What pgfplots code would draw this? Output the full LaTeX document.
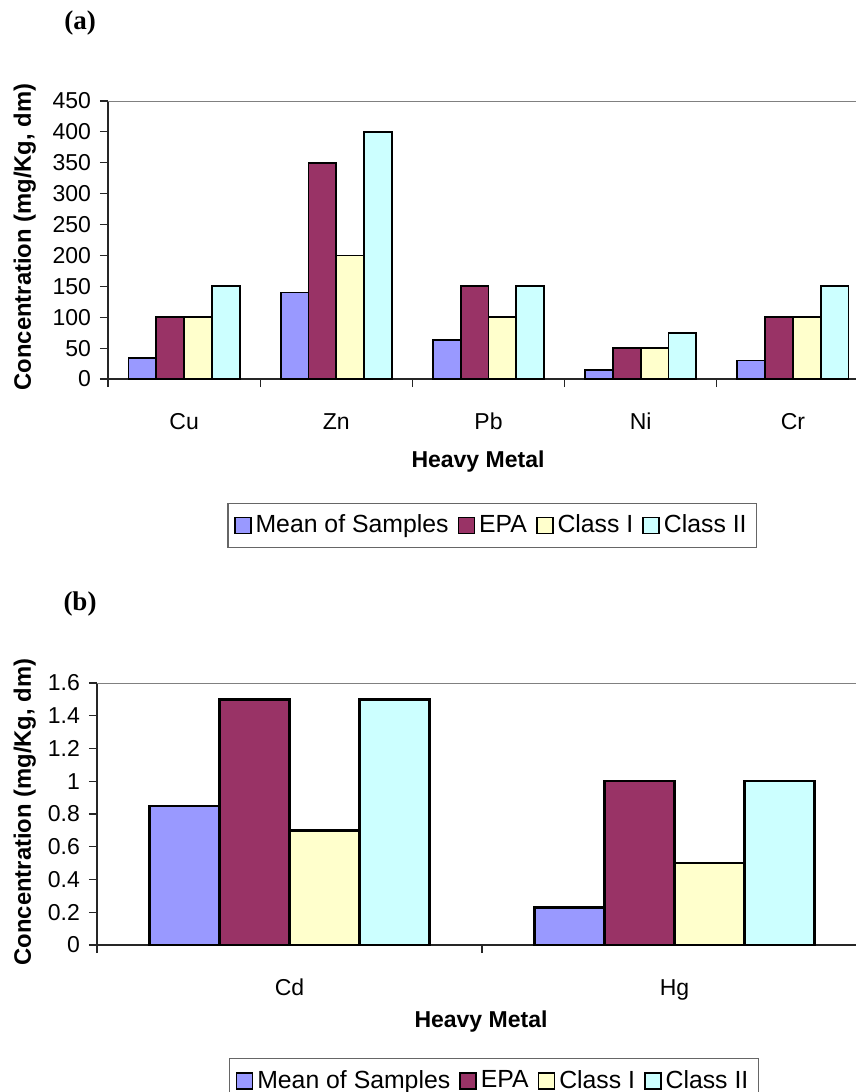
\documentclass[border=0pt]{standalone}
\usepackage{pgfplots}
\usepackage{pgfplotstable}
\pgfplotsset{compat=1.18}
\usepackage{fontspec}
\setmainfont{Liberation Sans}
\newfontfamily\panelfont{Liberation Serif}

\definecolor{meancol}{HTML}{9999FF}
\definecolor{epacol}{HTML}{993366}
\definecolor{classonecol}{HTML}{FFFFCC}
\definecolor{classtwocol}{HTML}{CCFFFF}

% (a) major heavy metals, mg/Kg dry matter
\pgfplotstableread{
x mean epa classI classII
0 34  100 100 150
1 140 350 200 400
2 63  150 100 150
3 15  50  50  75
4 30  100 100 150
}\majortable

% (b) trace heavy metals, mg/Kg dry matter
\pgfplotstableread{
x mean epa classI classII
0 0.85 1.5 0.7 1.5
1 0.23 1.0 0.5 1.0
}\tracetable

\pgfplotsset{
  metalchart/.style={
    scale only axis,
    ybar=0pt,
    axis lines=left,
    axis line style={-, black!85, line width=0.7pt},
    tick align=outside,
    major tick length=4pt,
    tick style={black!85, line width=0.6pt},
    x tick label as interval,
    /pgf/number format/assume math mode=true,
    tick label style={font=\fontsize{11.5}{13}\selectfont},
    xticklabel style={anchor=base, yshift=-21.25pt},
    yticklabel style={xshift=-1pt},
    legend columns=-1,
    legend style={draw=black!60, line width=0.6pt,
      font=\fontsize{12.4}{14}\selectfont,
      inner ysep=3.8pt, inner xsep=3pt,
      /tikz/every odd column/.append style={column sep=0pt},
      /tikz/every even column/.append style={column sep=2.5pt}},
    legend image code/.code={%
      \draw[##1, draw=black, line width=0.8pt] (0pt,-4pt) rectangle (8pt,4pt);},
    every axis plot/.append style={draw=black},
  },
}

\begin{document}
\begin{tikzpicture}
% ---------- panel (a) ----------
\begin{axis}[metalchart,
  at={(54pt,-189.5pt)}, anchor=south west,
  width=380.5pt, height=139pt,
  bar width=13.9pt,
  xmin=-0.5, xmax=4.5, ymin=0, ymax=450,
  xtick={-0.5,0.5,...,4.5},
  xticklabels={Cu,Zn,Pb,Ni,Cr},
  ytick={0,50,...,450},
  every axis plot/.append style={line width=0.9pt},
  legend style={at={(0.505,-0.527)}, anchor=center},
]
\addplot[fill=meancol] table[x=x, y=mean] {\majortable};
\addplot[fill=epacol] table[x=x, y=epa] {\majortable};
\addplot[fill=classonecol] table[x=x, y=classI] {\majortable};
\addplot[fill=classtwocol] table[x=x, y=classII] {\majortable};
\legend{Mean of Samples, EPA, Class I, Class II}
\draw[gray, line width=0.8pt] (rel axis cs:0,1) -- (rel axis cs:1,1);
\end{axis}

% ---------- panel (b) ----------
\begin{axis}[metalchart,
  at={(48.5pt,-472.5pt)}, anchor=south west,
  width=385pt, height=131pt,
  bar width=35pt,
  xmin=-0.5, xmax=1.5, ymin=0, ymax=1.6,
  xtick={-0.5,0.5,1.5},
  xticklabels={Cd,Hg},
  ytick={0,0.2,0.4,0.6,0.8,1,1.2,1.4,1.6},
  yticklabel style={/pgf/number format/.cd, fixed, precision=1},
  every axis plot/.append style={line width=1.2pt},
  legend style={at={(0.5156,-0.518)}, anchor=center},
]
\addplot[fill=meancol] table[x=x, y=mean] {\tracetable};
\addplot[fill=epacol] table[x=x, y=epa] {\tracetable};
\addplot[fill=classonecol] table[x=x, y=classI] {\tracetable};
\addplot[fill=classtwocol] table[x=x, y=classII] {\tracetable};
\legend{Mean of Samples, EPA, Class I, Class II}
\draw[gray, line width=0.8pt] (rel axis cs:0,1) -- (rel axis cs:1,1);
\end{axis}

% panel tags and axis titles
\node[font=\panelfont\bfseries\fontsize{13.5}{15}\selectfont] at (40pt,-11.5pt) {(a)};
\node[font=\panelfont\bfseries\fontsize{13.5}{15}\selectfont] at (40pt,-302pt) {(b)};
\node[font=\bfseries\fontsize{11.5}{13}\selectfont, anchor=base] at (239pt,-233.5pt) {Heavy Metal};
\node[font=\bfseries\fontsize{11.5}{13}\selectfont, anchor=base] at (240.5pt,-513.5pt) {Heavy Metal};
\node[font=\bfseries\fontsize{11.9}{13}\selectfont, anchor=base, rotate=90] at (15.5pt,-118.5pt) {Concentration (mg/Kg, dm)};
\node[font=\bfseries\fontsize{11.9}{13}\selectfont, anchor=base, rotate=90] at (15.5pt,-406pt) {Concentration (mg/Kg, dm)};

\pgfresetboundingbox
\path[use as bounding box] (0pt,0pt) rectangle (428pt,-546pt);
\end{tikzpicture}
\end{document}
